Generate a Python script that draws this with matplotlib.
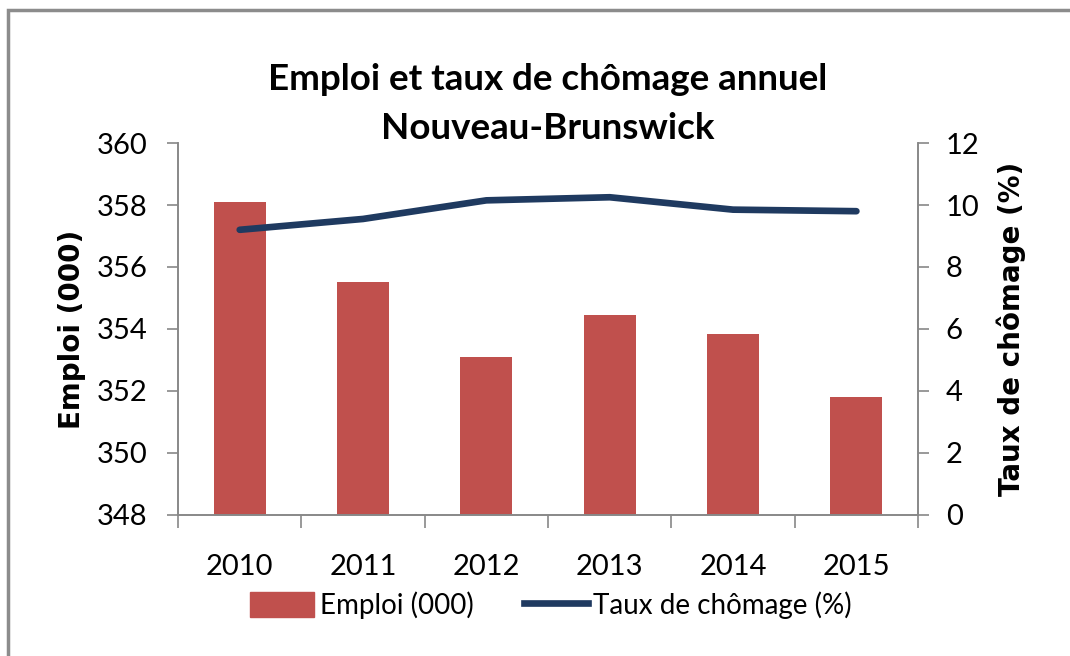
import numpy as np
import matplotlib.pyplot as plt
from matplotlib.patches import Rectangle, Patch
from matplotlib.lines import Line2D

# data
years = ["2010", "2011", "2012", "2013", "2014", "2015"]
emploi = [358.1, 355.5, 353.1, 354.45, 353.85, 351.8]
chomage = [9.2, 9.55, 10.15, 10.25, 9.85, 9.8]

bar_color = "#C0504D"
line_color = "#1F3A60"

plt.rcParams["font.family"] = ["Lato", "DejaVu Sans"]

fig = plt.figure(figsize=(10.7, 6.56), dpi=100)
ax = fig.add_axes([0.1664, 0.215, 0.6916, 0.567])
ax2 = ax.twinx()

x = np.arange(len(years))
ax.bar(x, emploi, width=0.42, color=bar_color, zorder=2)
ax2.plot(x, chomage, color=line_color, lw=4.8, solid_capstyle="round", zorder=3)

ax.set_xlim(-0.5, 5.5)
ax.set_ylim(348, 360)
ax.set_yticks(np.arange(348, 361, 2))
ax2.set_ylim(0, 12)
ax2.set_yticks(np.arange(0, 13, 2))

ax.set_xticks(x)
ax.set_xticklabels(years, fontsize=21)
ax.set_xticks(np.arange(-0.5, 6, 1), minor=True)
ax.tick_params(axis="x", which="major", length=0, pad=28)
ax.tick_params(axis="x", which="minor", length=9, color="#888888", width=1.2)
ax.tick_params(axis="y", labelsize=21, length=8, color="#888888", width=1.2, pad=14)
ax2.tick_params(axis="y", labelsize=21, length=8, color="#888888", width=1.2, pad=12)

for a in (ax, ax2):
    a.spines["top"].set_visible(False)
    for s in ("left", "right", "bottom"):
        a.spines[s].set_color("#888888")
        a.spines[s].set_linewidth(1.2)

ax.set_ylabel("Emploi (000)", fontsize=20, fontweight="bold",
              family=["DejaVu Sans"], labelpad=8)
ax2.set_ylabel("Taux de chômage (%)", fontsize=20, fontweight="bold",
               family=["DejaVu Sans"], labelpad=12)

fig.text(0.512, 0.842, "Emploi et taux de chômage annuel\nNouveau-Brunswick",
         ha="center", va="center", fontsize=26.5, fontweight="bold",
         linespacing=1.6)

handles = [Patch(color=bar_color, label="Emploi (000)"),
           Line2D([0], [0], color=line_color, lw=4.8, label="Taux de chômage (%)")]
fig.legend(handles=handles, loc="center", bbox_to_anchor=(0.515, 0.077), ncol=2,
           frameon=False, fontsize=20, handlelength=2.3, handleheight=1.0,
           handletextpad=0.2, columnspacing=1.8)

# outer border of the chart area
fig.patches.append(Rectangle((8 / 1070, -0.05), 1.2, 1.05 - 10 / 656,
                             transform=fig.transFigure, fill=False,
                             edgecolor="#8c8c8c", lw=2.5))

fig.savefig("out.png", dpi=100)
